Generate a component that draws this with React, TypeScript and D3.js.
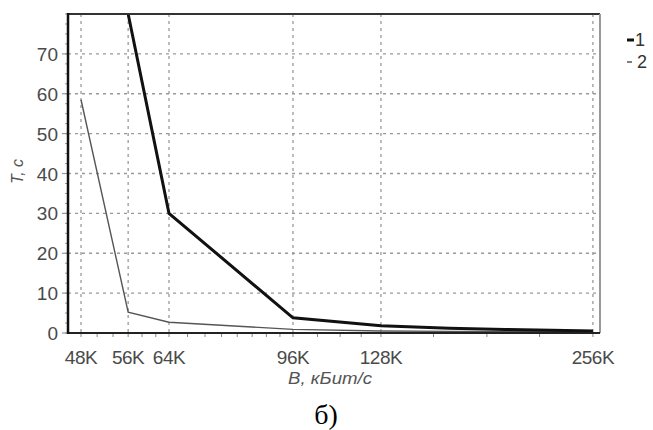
import * as d3 from 'd3';
import { useEffect, useRef } from 'react';

// bitrate, kbit/s
const rates = [48, 56, 64, 96, 128, 160, 192, 224, 256];
const series1 = [null, 80, 30, 3.8, 1.8, 1.2, 0.9, 0.7, 0.5];
const series2 = [58.5, 5.2, 2.7, 0.9, 0.5, 0.4, 0.35, 0.3, 0.25];
const xTicks = [48, 56, 64, 96, 128, 256];
const xTickLabels = ['48K', '56K', '64K', '96K', '128K', '256K'];
const xMinorTicks = [50.6, 53.3, 58.6, 61.3, 68, 72, 76, 80, 84, 88, 92, 104, 112, 120, 152, 181, 215];
const yTicks = [0, 10, 20, 30, 40, 50, 60, 70];
const legendLabels = ['1', '2'];

const W = 653;
const H = 430;
const margin = { top: 14, right: 53, bottom: 97, left: 68 };

const App = () => {
  const ref = useRef(null);

  useEffect(() => {
    const svg = d3.select(ref.current);
    svg.selectAll('*').remove();

    const x = d3
      .scaleLog()
      .base(2)
      .domain([46, 262])
      .range([margin.left, W - margin.right]);
    const y = d3
      .scaleLinear()
      .domain([0, 80])
      .range([H - margin.bottom, margin.top]);

    const x0 = margin.left;
    const x1 = W - margin.right;
    const y0 = H - margin.bottom;
    const y1 = margin.top;

    svg.append('rect').attr('width', W).attr('height', H).style('fill', '#fff');

    svg
      .append('defs')
      .append('clipPath')
      .attr('id', 'plot')
      .append('rect')
      .attr('x', x0)
      .attr('y', y1)
      .attr('width', x1 - x0)
      .attr('height', y0 - y1);

    // grid
    svg
      .selectAll('.hgrid')
      .data(yTicks.filter((d) => d > 0))
      .enter()
      .append('line')
      .attr('x1', x0)
      .attr('x2', x1)
      .attr('y1', (d) => y(d))
      .attr('y2', (d) => y(d))
      .style('stroke', '#999')
      .style('stroke-width', 1.3)
      .style('stroke-dasharray', '3,4');
    svg
      .selectAll('.vgrid')
      .data(xTicks)
      .enter()
      .append('line')
      .attr('x1', (d) => x(d))
      .attr('x2', (d) => x(d))
      .attr('y1', y1)
      .attr('y2', y0)
      .style('stroke', '#999')
      .style('stroke-width', 1.3)
      .style('stroke-dasharray', '3,4');

    // y ticks
    const yMinor = d3.range(0, 80.1, 2.5);
    svg
      .selectAll('.ymin')
      .data(yMinor)
      .enter()
      .append('line')
      .attr('x1', x0 - 3)
      .attr('x2', x0)
      .attr('y1', (d) => y(d))
      .attr('y2', (d) => y(d))
      .style('stroke', '#999')
      .style('stroke-width', 1);
    svg
      .selectAll('.ymaj')
      .data(yTicks)
      .enter()
      .append('line')
      .attr('x1', x0 - 6)
      .attr('x2', x0)
      .attr('y1', (d) => y(d))
      .attr('y2', (d) => y(d))
      .style('stroke', '#999')
      .style('stroke-width', 1.2);
    svg
      .selectAll('.ylab')
      .data(yTicks)
      .enter()
      .append('text')
      .attr('x', x0 - 10)
      .attr('y', (d) => y(d) + 7)
      .attr('text-anchor', 'end')
      .style('font-family', 'Arial, "Liberation Sans", sans-serif')
      .style('font-size', '19px')
      .style('fill', '#4a4a4a')
      .text((d) => d);

    // x ticks
    svg
      .selectAll('.xmin')
      .data(xMinorTicks.concat(xTicks))
      .enter()
      .append('line')
      .attr('x1', (d) => x(d))
      .attr('x2', (d) => x(d))
      .attr('y1', y0)
      .attr('y2', y0 + 4)
      .style('stroke', '#888')
      .style('stroke-width', 1);
    svg
      .selectAll('.xlab')
      .data(xTicks)
      .enter()
      .append('text')
      .attr('x', (d) => x(d))
      .attr('y', y0 + 31)
      .attr('text-anchor', 'middle')
      .style('font-family', 'Arial, "Liberation Sans", sans-serif')
      .style('font-size', '19px')
      .style('letter-spacing', '-0.5px')
      .style('fill', '#4a4a4a')
      .text((d, i) => xTickLabels[i]);

    // series
    const line = d3
      .line()
      .defined((d) => d[1] !== null)
      .x((d) => x(d[0]))
      .y((d) => y(d[1]));

    const g = svg.append('g').attr('clip-path', 'url(#plot)');
    g.append('path')
      .datum(rates.map((r, i) => [r, series2[i]]))
      .attr('d', line)
      .style('fill', 'none')
      .style('stroke', '#555')
      .style('stroke-width', 1.4);
    g.append('path')
      .datum(rates.map((r, i) => [r, series1[i]]))
      .attr('d', line)
      .style('fill', 'none')
      .style('stroke', '#111')
      .style('stroke-width', 3);

    // frame
    svg
      .append('line')
      .attr('x1', x0)
      .attr('x2', x1)
      .attr('y1', y1)
      .attr('y2', y1)
      .style('stroke', '#333')
      .style('stroke-width', 2);
    svg
      .append('line')
      .attr('x1', x1)
      .attr('x2', x1)
      .attr('y1', y1)
      .attr('y2', y0)
      .style('stroke', '#999')
      .style('stroke-width', 2);
    svg
      .append('line')
      .attr('x1', x0)
      .attr('x2', x1)
      .attr('y1', y0)
      .attr('y2', y0)
      .style('stroke', '#222')
      .style('stroke-width', 2);
    svg
      .append('line')
      .attr('x1', x0)
      .attr('x2', x0)
      .attr('y1', y1 - 1)
      .attr('y2', y0 + 1)
      .style('stroke', '#111')
      .style('stroke-width', 2.5);

    // legend
    const leg = svg.append('g');
    legendLabels.forEach((lab, i) => {
      const ly = 40 + i * 22;
      leg
        .append('line')
        .attr('x1', 627)
        .attr('x2', i === 0 ? 634 : 632)
        .attr('y1', ly)
        .attr('y2', ly)
        .style('stroke', i === 0 ? '#111' : '#555')
        .style('stroke-width', i === 0 ? 3 : 1.5);
      leg
        .append('text')
        .attr('x', i === 0 ? 635 : 637)
        .attr('y', ly + 6)
        .style('font-family', 'Arial, "Liberation Sans", sans-serif')
        .style('font-size', '18px')
        .style('fill', '#333')
        .text(lab);
    });

    // axis titles
    svg
      .append('text')
      .attr('transform', `translate(23, ${(y0 + y1) / 2 - 2}) rotate(-90)`)
      .attr('text-anchor', 'middle')
      .style('font-family', 'Arial, "Liberation Sans", sans-serif')
      .style('font-size', '16px')
      .style('font-style', 'italic')
      .style('fill', '#555')
      .text('T, c');
    svg
      .append('text')
      .attr('x', 330)
      .attr('y', 384)
      .attr('text-anchor', 'middle')
      .attr('textLength', 84)
      .attr('lengthAdjust', 'spacingAndGlyphs')
      .style('font-family', 'Arial, "Liberation Sans", sans-serif')
      .style('font-size', '16px')
      .style('font-style', 'italic')
      .style('fill', '#555')
      .text('B, кБит/с');
    svg
      .append('text')
      .attr('x', 326)
      .attr('y', 424)
      .attr('text-anchor', 'middle')
      .style('font-family', '"Liberation Serif", "Times New Roman", serif')
      .style('font-size', '28px')
      .style('fill', '#000')
      .text('б)');
  }, []);

  return (
    <svg
      ref={ref}
      width={W}
      height={H}
      style={{ position: 'absolute', left: 0, top: 0 }}
    ></svg>
  );
};

export default App;
